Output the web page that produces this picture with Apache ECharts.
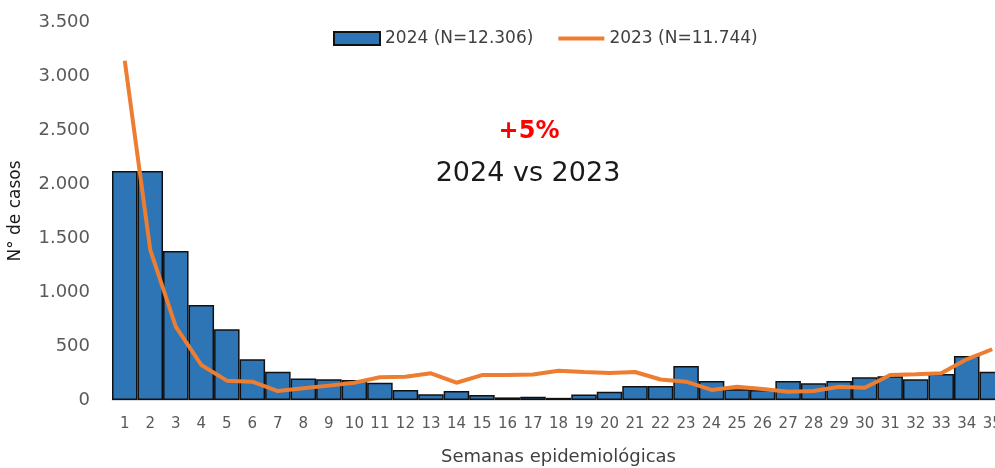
<!DOCTYPE html>
<html>
<head>
<meta charset="utf-8">
<script src="https://cdn.jsdelivr.net/npm/echarts@6/dist/echarts.min.js"></script>
<style>html,body{margin:0;padding:0;background:#fff}#c{width:995px;height:468px}</style>
</head>
<body>
<div id="c"></div>
<script>
const weeks = ['1','2','3','4','5','6','7','8','9','10','11','12','13','14','15','16','17','18','19','20','21','22','23','24','25','26','27','28','29','30','31','32','33','34','35'];
const cases2024 = [2120,2120,1380,880,655,377,262,200,192,185,160,93,53,83,46,24,30,20,50,77,130,130,315,176,100,93,176,154,176,210,220,192,241,407,262];
const cases2023 = [3142,1389,679,324,179,170,83,108,133,160,210,216,247,160,231,231,237,271,259,250,259,190,170,93,123,102,77,83,123,114,231,238,247,377,470];
const name2024 = '2024 (N=12.306)';
const name2023 = '2023 (N=11.744)';
const yTicks = {min:0, max:3500, interval:500};

const FONT = '"DejaVu Sans", sans-serif';
const chart = echarts.init(document.getElementById('c'));
chart.setOption({
  animation:false,
  textStyle:{fontFamily:FONT},
  grid:{left:112, right:-10, top:22, bottom:68, outerBoundsMode:'none', containLabel:false},
  legend:{
    left:328, top:25, itemWidth:46, itemHeight:13, itemGap:25,
    textStyle:{fontSize:17, color:'#404040', fontFamily:FONT},
    data:[{name:name2024, icon:'rect'}, {name:name2023, icon:'path://M0,0H50V4.2H0Z'}]
  },
  xAxis:{
    type:'category', data:weeks,
    axisLine:{show:true, lineStyle:{color:'#d9d9d9'}},
    axisTick:{show:false},
    axisLabel:{color:'#595959', fontSize:15, margin:17, interval:0},
    name:'Semanas epidemiológicas', nameLocation:'middle', nameGap:48,
    nameTextStyle:{fontSize:18, color:'#404040'}
  },
  yAxis:{
    type:'value', min:yTicks.min, max:yTicks.max, interval:yTicks.interval,
    splitLine:{show:false}, axisLine:{show:false}, axisTick:{show:false},
    axisLabel:{color:'#595959', fontSize:18, margin:22,
      formatter:v=>v.toString().replace(/\B(?=(\d{3})+(?!\d))/g,'.')},
    name:'N° de casos', nameLocation:'middle', nameGap:88,
    nameTextStyle:{fontSize:17, color:'#1a1a1a'}
  },
  graphic:[
    {type:'text', style:{text:'+5%', fill:'#ff0000', font:'bold 24px '+FONT, textAlign:'center', textVerticalAlign:'middle'}, x:529, y:132},
    {type:'text', style:{text:'2024 vs 2023', fill:'#1a1a1a', font:'27px '+FONT, textAlign:'center', textVerticalAlign:'middle'}, x:528, y:174}
  ],
  series:[
    {name:name2024, type:'bar', data:cases2024, barCategoryGap:'0%',
     itemStyle:{color:'#2E75B6', borderColor:'#111', borderWidth:1.5}},
    {name:name2023, type:'line', data:cases2023, symbol:'none',
     lineStyle:{color:'#ED7D31', width:4}, itemStyle:{color:'#ED7D31'}}
  ]
});
</script>
</body>
</html>
